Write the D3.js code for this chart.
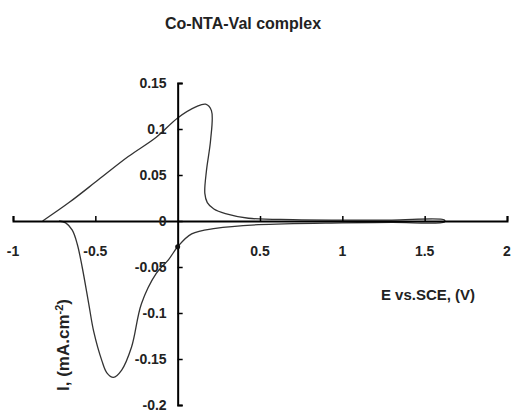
<!DOCTYPE html>
<html>
<head>
<meta charset="utf-8">
<script src="https://cdn.jsdelivr.net/npm/d3@7"></script>
<style>
  body { margin: 0; background: #fff; }
  svg text { font-family: "Liberation Sans", Arial, sans-serif; font-weight: bold; fill: #222; }
</style>
</head>
<body>
<svg id="chart" width="513" height="414"></svg>
<script>
// Cyclic voltammogram of the Co-NTA-Val complex (potential in V vs. SCE, current in mA.cm^-2)
const potential = [
  -0.82, -0.66, -0.48, -0.3, -0.13, 0, 0.11, 0.17, 0.205, 0.2, 0.175, 0.165, 0.18, 0.22,
  0.29, 0.43, 0.7, 1.0, 1.3, 1.62,
  1.62, 1.3, 1.0, 0.49, 0.23, 0.085, 0, -0.055, -0.13, -0.22, -0.28, -0.34, -0.39, -0.43,
  -0.46, -0.51, -0.54, -0.58, -0.61, -0.64, -0.68, -0.72
];
const current = [
  0, 0.02, 0.045, 0.07, 0.091, 0.112, 0.124, 0.127, 0.12, 0.088, 0.055, 0.03, 0.02, 0.013,
  0.008, 0.003, 0.0015, 0.001, 0.001, 0.001,
  -0.001, -0.0015, -0.002, -0.004, -0.008, -0.014, -0.028, -0.042, -0.057, -0.09, -0.137, -0.162, -0.17, -0.165,
  -0.152, -0.12, -0.09, -0.05, -0.025, -0.01, -0.002, 0
];
const xTicks = [-1, -0.5, 0.5, 1, 1.5, 2];
const yTicks = [-0.2, -0.15, -0.1, -0.05, 0, 0.05, 0.1, 0.15];

const svg = d3.select("#chart");
const x = d3.scaleLinear().domain([-1, 2]).range([13, 507]);
const y = d3.scaleLinear().domain([-0.2, 0.15]).range([405, 83]);

// title
svg.append("text").attr("x", 243).attr("y", 29).attr("text-anchor", "middle")
  .style("font-size", "16px").text("Co-NTA-Val complex");

// curve
const pts = potential.map((e, i) => [e, current[i]]);
const line = d3.line().x(d => x(d[0])).y(d => y(d[1])).curve(d3.curveCatmullRom.alpha(0.5));
svg.append("path").datum(pts).attr("d", line)
  .attr("fill", "none").attr("stroke", "#333").attr("stroke-width", 1.3);

// x axis through I = 0, ticks pointing up
const xAxis = svg.append("g").attr("transform", `translate(0,${y(0)})`)
  .call(d3.axisTop(x).tickValues(xTicks).tickSize(5).tickFormat(""));
xAxis.select(".domain").attr("stroke", "#000").attr("stroke-width", 2);
xAxis.selectAll(".tick line").attr("stroke", "#000").attr("stroke-width", 1.5);
svg.append("g").selectAll("text").data(xTicks).join("text")
  .attr("x", d => x(d)).attr("y", y(0) + 35).attr("text-anchor", "middle")
  .style("font-size", "14px").text(d => d);

// y axis through E = 0, ticks pointing right
const yAxis = svg.append("g").attr("transform", `translate(${x(0)},0)`)
  .call(d3.axisRight(y).tickValues(yTicks).tickSize(5).tickFormat(""));
yAxis.select(".domain").attr("stroke", "#000").attr("stroke-width", 2);
yAxis.selectAll(".tick line").attr("stroke", "#000").attr("stroke-width", 1.5);
svg.append("g").selectAll("text").data(yTicks).join("text")
  .attr("x", x(0) - 11).attr("y", d => y(d) + 5).attr("text-anchor", "end")
  .style("font-size", "14px").text(d => d);

// mark where the return sweep crosses E = 0
svg.append("circle").attr("cx", x(potential[26])).attr("cy", y(current[26])).attr("r", 2.5).attr("fill", "#111");

// axis titles
svg.append("text").attr("x", 428).attr("y", 300).attr("text-anchor", "middle")
  .style("font-size", "15px").text("E vs.SCE, (V)");
const yt = svg.append("text").attr("transform", "translate(69,345) rotate(-90)")
  .attr("text-anchor", "middle").style("font-size", "17px");
yt.append("tspan").text("I, (mA.cm");
yt.append("tspan").attr("dy", -6).style("font-size", "11px").text("-2");
yt.append("tspan").attr("dy", 6).text(")");
</script>
</body>
</html>
